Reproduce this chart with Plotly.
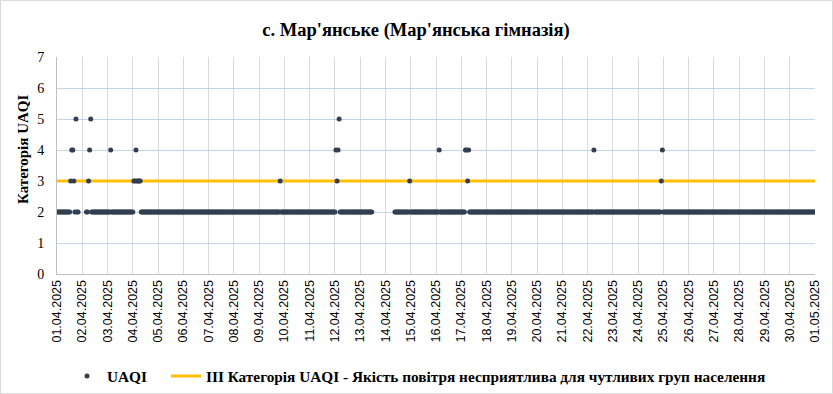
import plotly.graph_objects as go
from datetime import datetime, timedelta

# Day tick labels
day_labels = ["01.04.2025", "02.04.2025", "03.04.2025", "04.04.2025", "05.04.2025",
              "06.04.2025", "07.04.2025", "08.04.2025", "09.04.2025", "10.04.2025",
              "11.04.2025", "12.04.2025", "13.04.2025", "14.04.2025", "15.04.2025",
              "16.04.2025", "17.04.2025", "18.04.2025", "19.04.2025", "20.04.2025",
              "21.04.2025", "22.04.2025", "23.04.2025", "24.04.2025", "25.04.2025",
              "26.04.2025", "27.04.2025", "28.04.2025", "29.04.2025", "30.04.2025",
              "01.05.2025"]

ALL2 = "222222222222222222222222"
# Hourly UAQI category per day (hours 00..23), '.' = no data
hourly_uaqi = {
    "01.04.2025": "2222222222222" "3443252" "2" "...",
    "02.04.2025": "...." "22" "345" "222222222222222",
    "03.04.2025": "222" "4" "22222222222222222222",
    "04.04.2025": "2" "3343333" "2222222222222222",
    "05.04.2025": ALL2,
    "06.04.2025": ALL2,
    "07.04.2025": ALL2,
    "08.04.2025": ALL2,
    "09.04.2025": "22222222222222222222" "3" "222",
    "10.04.2025": ALL2,
    "11.04.2025": ALL2,
    "12.04.2025": "2" "4345" "2222222222222222222",
    "13.04.2025": "222222222222" "............",
    "14.04.2025": "........." "22222222222222" "3",
    "15.04.2025": ALL2,
    "16.04.2025": "222" "4" "22222222222222222222",
    "17.04.2025": "2222" "4434" "2222222222222222",
    "18.04.2025": ALL2,
    "19.04.2025": ALL2,
    "20.04.2025": ALL2,
    "21.04.2025": ALL2,
    "22.04.2025": "222222" "4" "22222222222222222",
    "23.04.2025": ALL2,
    "24.04.2025": "2222222222222222222222" "34",
    "25.04.2025": ALL2,
    "26.04.2025": ALL2,
    "27.04.2025": ALL2,
    "28.04.2025": ALL2,
    "29.04.2025": ALL2,
    "30.04.2025": ALL2,
    "01.05.2025": "2",
}
threshold_value = 3  # III категорія UAQI

xs, ys = [], []
for lbl, s in hourly_uaqi.items():
    if lbl != "01.05.2025":
        assert len(s) == 24, (lbl, len(s))
    d = datetime.strptime(lbl, "%d.%m.%Y")
    for h, ch in enumerate(s):
        if ch != ".":
            xs.append(d + timedelta(hours=h))
            ys.append(int(ch))

tick_dates = [datetime.strptime(l, "%d.%m.%Y") for l in day_labels]

W, H = 833, 394
ml, mr, mt, mb = 57, 18, 57, 120
SERIF = "Liberation Serif, Times New Roman, serif"

fig = go.Figure()
fig.add_trace(go.Scatter(
    x=[tick_dates[0], tick_dates[-1]], y=[threshold_value, threshold_value],
    mode="lines", line=dict(color="#FFC000", width=3),
    name="ІІІ Категорія UAQI - Якість повітря несприятлива для чутливих груп населення",
    legend="legend2", hoverinfo="skip"))
fig.add_trace(go.Scatter(
    x=xs, y=ys, mode="markers",
    marker=dict(color="#333F50", size=5, line=dict(width=0)),
    name="UAQI", legend="legend"))

pw = W - ml - mr
ph = H - mt - mb
fig.add_shape(type="rect", xref="paper", yref="paper",
              x0=(-ml + 0.5) / pw, x1=1 + (mr - 0.5) / pw,
              y0=(-mb + 0.5) / ph, y1=1 + (mt - 0.5) / ph,
              line=dict(color="#D9D9D9", width=1), layer="below")

# y-axis title placed like the original (slightly above the plot centre)
fig.add_annotation(text="<b>Категорія UAQI</b>", xref="paper", yref="paper",
                   x=(23 - ml) / pw, y=(H - mb - 150) / ph, xanchor="center", yanchor="middle",
                   textangle=-90, showarrow=False,
                   font=dict(family=SERIF, size=15, color="black"))

leg_font = dict(family=SERIF, size=15.3, color="black", weight="bold")
leg_y = -(376 - 274) / ph

fig.update_layout(
    width=W, height=H,
    margin=dict(l=ml, r=mr, t=mt, b=mb, autoexpand=False),
    paper_bgcolor="white", plot_bgcolor="white",
    title=dict(text="с. Мар'янське (Мар'янська гімназія)",
               x=416 / W, xanchor="center", y=1 - 30 / H, yanchor="middle",
               font=dict(family=SERIF, size=18.5, color="black", weight="bold")),
    xaxis=dict(type="date", range=[tick_dates[0], tick_dates[-1]], automargin=False,
               tickvals=tick_dates, ticktext=day_labels, tickangle=-90,
               tickfont=dict(family="Liberation Sans, Arial, sans-serif", size=12.5, color="black"),
               showgrid=True, gridcolor="#D9D9D9", gridwidth=1,
               showline=True, linecolor="#BFBFBF", linewidth=1,
               ticks="", ticklen=0, zeroline=False),
    yaxis=dict(range=[0, 7], dtick=1, tick0=0, automargin=False,
               tickfont=dict(family=SERIF, size=14, color="black"),
               showgrid=True, gridcolor="#C5D3EC", gridwidth=1,
               showline=True, linecolor="#BFBFBF", linewidth=1,
               zeroline=False, ticks="", ticklabelstandoff=9),
    legend=dict(orientation="h", x=(67 - ml) / pw, xanchor="left",
                y=leg_y, yanchor="middle", font=leg_font,
                itemwidth=30, bgcolor="rgba(0,0,0,0)"),
    legend2=dict(orientation="h", x=(166 - ml) / pw, xanchor="left",
                 y=leg_y, yanchor="middle", font=leg_font,
                 itemwidth=30, bgcolor="rgba(0,0,0,0)"),
    showlegend=True,
)
fig.write_html("out.html", config={"displayModeBar": False},
               post_script="document.body.style.margin='0';document.body.style.overflow='hidden';")
